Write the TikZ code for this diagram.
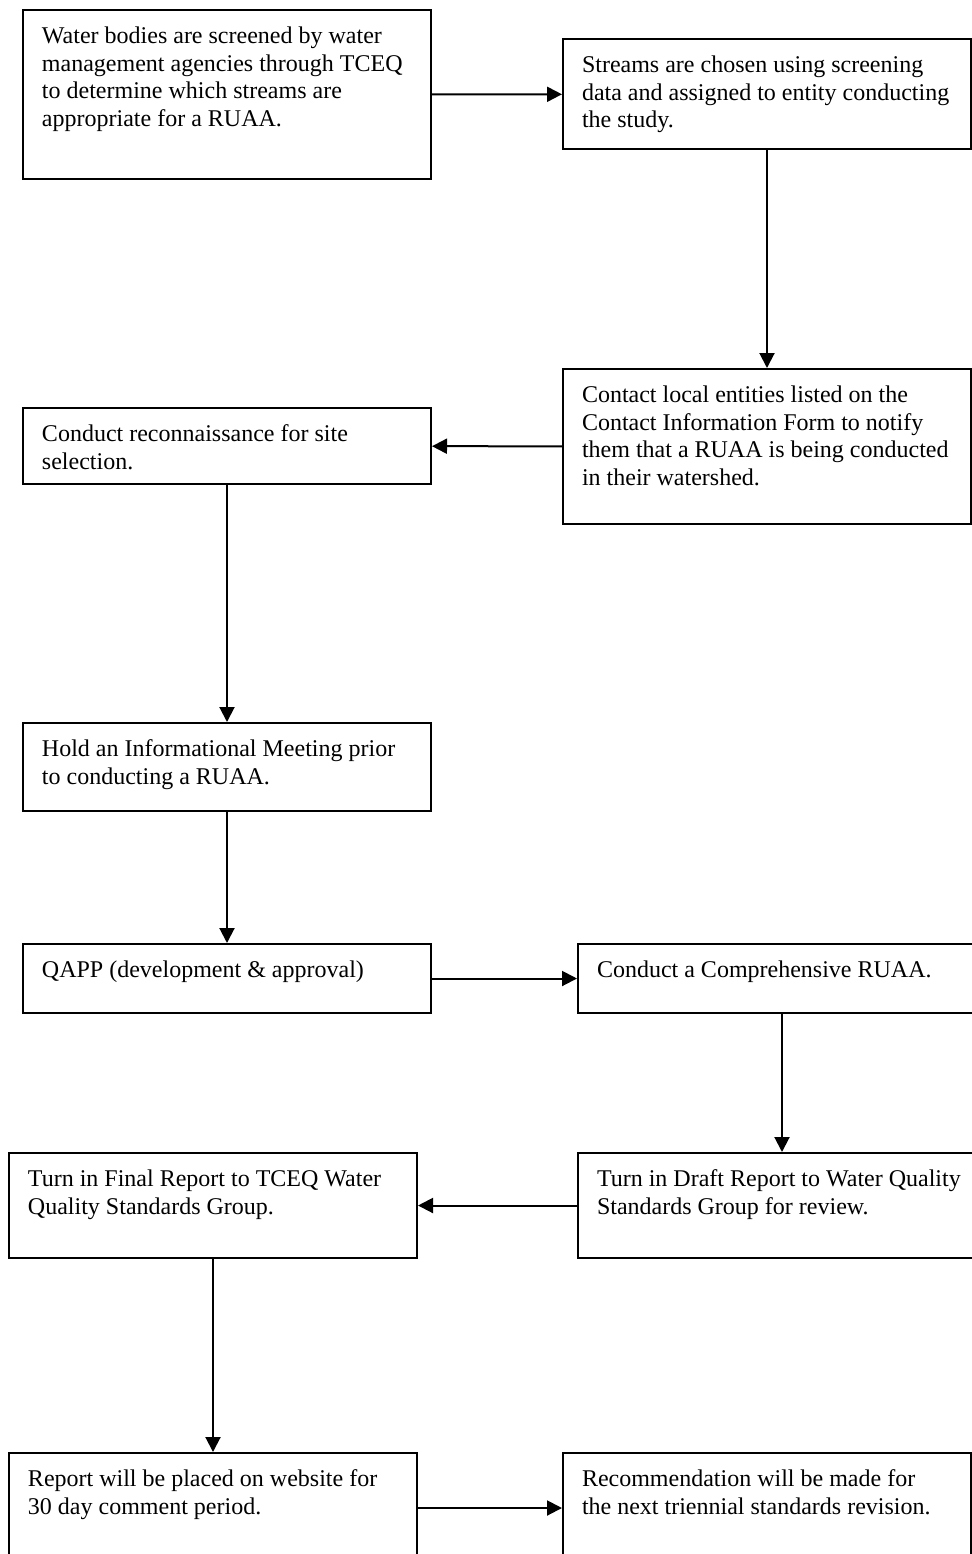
\documentclass[tikz,border=0pt]{standalone}
\usepackage{fontspec}
\setmainfont{Liberation Serif}
\usetikzlibrary{arrows.meta,graphs}
\tikzset{
    >={Triangle[length=7.5pt,width=7.5pt]},
    stage/.style={
        draw=black,
        anchor=north west,
        text width=196pt,
        inner xsep=4pt,
        inner ysep=0pt,
        align=flush left,
        execute at begin node={\leftskip=5.5pt\relax},
        text height=16.75pt,
        font=\fontsize{12}{13.8}\selectfont,
    },
}
\begin{document}
\begin{tikzpicture}[x=0.5pt,y=-0.5pt,line width=1pt]
    \useasboundingbox (0,0) rectangle (972,1554);

    % left and right columns, placed in pixel units of the page
    \node[stage,text depth=67.75pt] (screen) at (22,9)
        {Water bodies are screened by water\\
         management agencies through TCEQ\\
         to determine which streams are\\
         appropriate for a RUAA.};
    \node[stage,text depth=38.4pt] (choose) at (562,38)
        {Streams are chosen using screening\\
         data and assigned to entity conducting\\
         the study.};
    \node[stage,text depth=60.75pt] (contact) at (562,368)
        {Contact local entities listed on the\\
         Contact Information Form to notify\\
         them that a RUAA is being conducted\\
         in their watershed.};
    \node[stage,text depth=21.25pt] (recon) at (22,407)
        {Conduct reconnaissance for site\\
         selection.};
    \node[stage,text depth=27.25pt] (meeting) at (22,722)
        {Hold an Informational Meeting prior\\
         to conducting a RUAA.};
    \node[stage,text depth=17.75pt] (qapp) at (22,943)
        {QAPP (development \& approval)};
    \node[stage,text depth=17.75pt] (study) at (577,943)
        {Conduct a Comprehensive RUAA.};
    \node[stage,text depth=35.75pt] (draft) at (577,1152)
        {Turn in Draft Report to Water Quality\\
         Standards Group for review.};
    \node[stage,text depth=35.75pt] (final) at (8,1152)
        {Turn in Final Report to TCEQ Water\\
         Quality Standards Group.};
    \node[stage,text depth=38.25pt] (website) at (8,1452)
        {Report will be placed on website for\\
         30 day comment period.};
    \node[stage,text depth=38.25pt] (recommend) at (562,1452)
        {Recommendation will be made for\\
         the next triennial standards revision.};

    \graph[use existing nodes]{
        screen -> choose -> contact -> recon -> meeting -> qapp
            -> study -> draft -> final -> website -> recommend;
    };
\end{tikzpicture}
\end{document}
